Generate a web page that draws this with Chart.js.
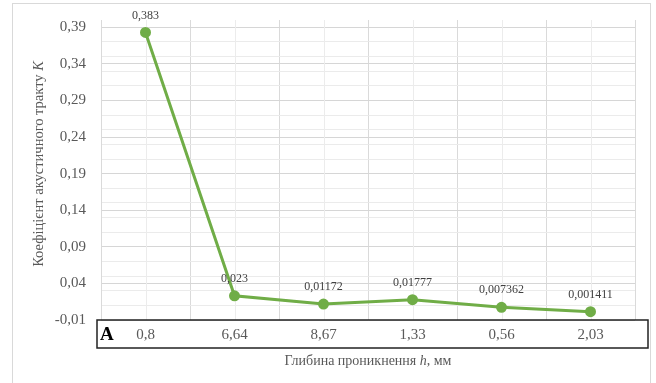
<!DOCTYPE html>
<html>
<head>
<meta charset="utf-8">
<script src="https://cdn.jsdelivr.net/npm/chart.js@4/dist/chart.umd.min.js"></script>
<style>
  html, body { margin: 0; padding: 0; background: #fff; }
  #wrap { width: 656px; height: 383px; position: relative; }
</style>
</head>
<body>
<div id="wrap"><canvas id="myChart" width="656" height="383"></canvas></div>
<script>
"use strict";

const categories = ["0,8", "6,64", "8,67", "1,33", "0,56", "2,03"];
const values = [0.383, 0.023, 0.01172, 0.01777, 0.007362, 0.001411];
const valueLabels = ["0,383", "0,023", "0,01172", "0,01777", "0,007362", "0,001411"];
const yMin = -0.01;
const yMax = 0.40;

const serif = "'Liberation Serif', 'Times New Roman', serif";
const green = "#70ad47";

// labels and gridlines every 0.05 starting at -0.01, lighter lines on odd hundredths
function hund(v) {
  return Math.round(v * 100);
}
function isMajor(v) {
  return (hund(v) + 1) % 5 === 0;
}

const extras = {
  id: "extras",
  beforeDatasetsDraw(chart) {
    const ctx = chart.ctx;
    const x = chart.scales.x;
    const area = chart.chartArea;
    ctx.save();
    ctx.strokeStyle = "#ececec";
    ctx.lineWidth = 1;
    for (let i = 0; i < categories.length; i++) {
      const px = Math.round(x.getPixelForValue(i)) + 0.5;
      ctx.beginPath();
      ctx.moveTo(px, area.top);
      ctx.lineTo(px, area.bottom);
      ctx.stroke();
    }
    ctx.restore();
  },
  afterDraw(chart) {
    const ctx = chart.ctx;
    const x = chart.scales.x;
    const y = chart.scales.y;
    ctx.save();

    // outer frame
    ctx.strokeStyle = "#d9d9d9";
    ctx.lineWidth = 1;
    ctx.strokeRect(12.5, 3.5, 638, 400);

    // value labels
    ctx.fillStyle = "#404040";
    ctx.font = "12px " + serif;
    ctx.textAlign = "center";
    ctx.textBaseline = "middle";
    values.forEach(function (v, i) {
      ctx.fillText(valueLabels[i], x.getPixelForValue(i), y.getPixelForValue(v) - 17);
    });

    // box around category labels
    ctx.strokeStyle = "#222";
    ctx.lineWidth = 1.5;
    ctx.strokeRect(97, 320, 551, 28);
    ctx.fillStyle = "#000";
    ctx.font = "bold 19px " + serif;
    ctx.textAlign = "left";
    ctx.fillText("A", 100, 335);

    // x axis title with italic h
    ctx.fillStyle = "#595959";
    const p1 = "Глибина проникнення ";
    const p2 = "h";
    const p3 = ", мм";
    ctx.font = "14px " + serif;
    const w1 = ctx.measureText(p1).width;
    const w3 = ctx.measureText(p3).width;
    ctx.font = "italic 14px " + serif;
    const w2 = ctx.measureText(p2).width;
    let sx = 368 - (w1 + w2 + w3) / 2;
    ctx.font = "14px " + serif;
    ctx.fillText(p1, sx, 361);
    ctx.font = "italic 14px " + serif;
    ctx.fillText(p2, sx + w1, 361);
    ctx.font = "14px " + serif;
    ctx.fillText(p3, sx + w1 + w2, 361);

    // y axis title with italic K
    ctx.translate(39, 164);
    ctx.rotate(-Math.PI / 2);
    const q1 = "Коефіцієнт акустичного тракту ";
    const q2 = "K";
    ctx.font = "14.5px " + serif;
    const v1 = ctx.measureText(q1).width;
    ctx.font = "italic 14.5px " + serif;
    const v2 = ctx.measureText(q2).width;
    sx = -(v1 + v2) / 2;
    ctx.font = "14.5px " + serif;
    ctx.fillText(q1, sx, 0);
    ctx.font = "italic 14.5px " + serif;
    ctx.fillText(q2, sx + v1, 0);
    ctx.restore();
  }
};

new Chart(document.getElementById("myChart"), {
  type: "line",
  data: {
    labels: categories,
    datasets: [
      {
        data: values,
        borderColor: green,
        backgroundColor: green,
        borderWidth: 3,
        pointRadius: 4,
        pointBackgroundColor: green,
        pointBorderColor: green,
        tension: 0,
      },
    ],
  },
  options: {
    responsive: false,
    animation: false,
    layout: { padding: { left: 0, top: 20, right: 21, bottom: 0 } },
    plugins: {
      legend: { display: false },
      tooltip: { enabled: false },
    },
    scales: {
      x: {
        offset: true,
        grid: { offset: true, color: "#dadada", drawTicks: false },
        border: { display: false },
        ticks: { color: "#595959", font: { family: serif, size: 15 }, padding: 6 },
        afterFit: function (scale) {
          scale.height = 63;
          scale.paddingLeft = 0;
          scale.paddingRight = 0;
        },
      },
      y: {
        min: yMin,
        max: yMax,
        grid: {
          drawTicks: false,
          color: function (c) {
            const v = c.tick.value;
            if (isMajor(v)) return "#d6d6d6";
            if (Math.abs(hund(v)) % 2 === 1) return "#ebebeb";
            return "rgba(0,0,0,0)";
          },
        },
        border: { color: "#dadada" },
        ticks: {
          stepSize: 0.01,
          autoSkip: false,
          color: "#595959",
          font: { family: serif, size: 15 },
          padding: 15,
          callback: function (v) {
            if (!isMajor(v)) return "";
            return (Math.round(v * 100) / 100).toFixed(2).replace(".", ",");
          },
        },
        afterFit: function (scale) {
          scale.width = 101;
          scale.paddingTop = 0;
          scale.paddingBottom = 0;
        },
      },
    },
  },
  plugins: [extras],
});
</script>
</body>
</html>
